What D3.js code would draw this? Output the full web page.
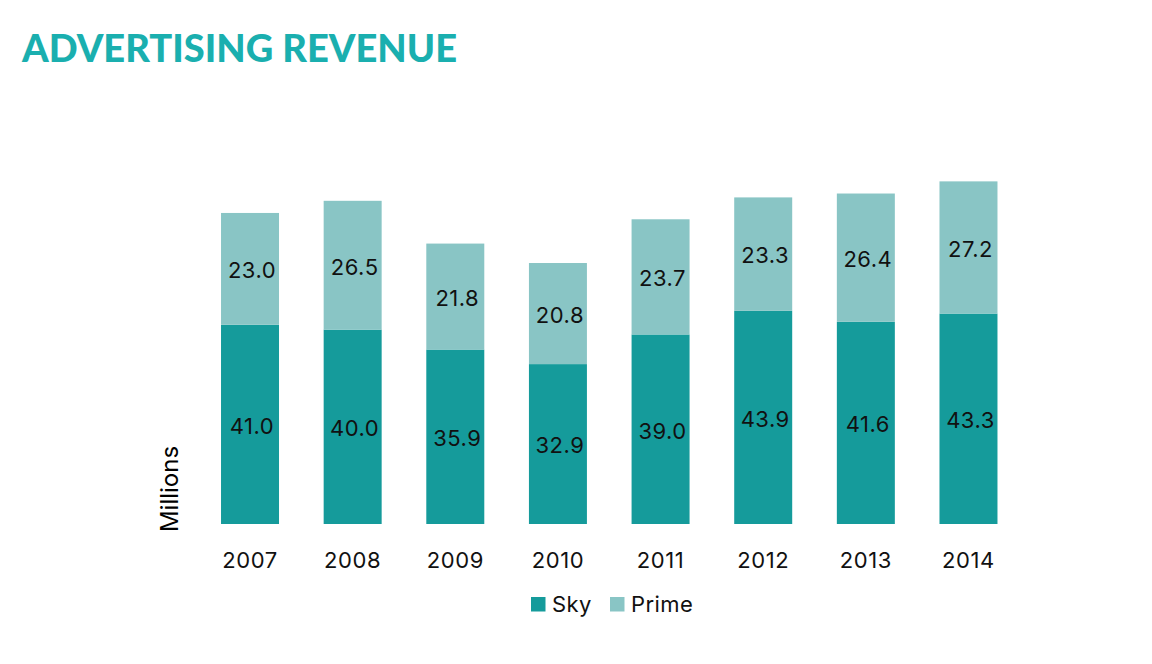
<!DOCTYPE html>
<html><head><meta charset="utf-8">
<script src="https://cdn.jsdelivr.net/npm/d3@7/dist/d3.min.js"></script>
<style>body{margin:0;background:#fff}svg{display:block}</style>
</head><body>
<svg id="c" width="1152" height="664"></svg>
<script>
const years = ["2007","2008","2009","2010","2011","2012","2013","2014"];
const sky =   [41.0, 40.0, 35.9, 32.9, 39.0, 43.9, 41.6, 43.3];
const prime = [23.0, 26.5, 21.8, 20.8, 23.7, 23.3, 26.4, 27.2];
const seriesNames = ["Sky","Prime"];
const colors = ["#159b9b","#89c5c5"];

const svg = d3.select("#c");
const font = "Inter, 'Noto Sans', sans-serif";

const rows = years.map((y,i)=>({year:y, Sky:sky[i], Prime:prime[i]}));
const stack = d3.stack().keys(seriesNames)(rows);

const x = d3.scaleBand().domain(years).range([198.7, 1019.8]).paddingInner(0.435).paddingOuter(0.2175);
const y = d3.scaleLinear().domain([0, 80]).range([524, 524 - 80*4.86]);

svg.append("text").attr("x",22).attr("y",62)
  .attr("font-family","'Lato', 'DejaVu Sans', sans-serif").attr("font-weight",900)
  .attr("font-size",37).attr("fill","#1aafaf")
  .attr("textLength",435).attr("lengthAdjust","spacingAndGlyphs")
  .text("ADVERTISING REVENUE");

const g = svg.append("g");
stack.forEach((s,si)=>{
  g.selectAll(null).data(s).join("rect")
    .attr("x",d=>x(d.data.year)).attr("width",x.bandwidth())
    .attr("y",d=>y(d[1])).attr("height",d=>y(d[0])-y(d[1]))
    .attr("fill",colors[si]);
  g.selectAll(null).data(s).join("text")
    .attr("x",d=>x(d.data.year)+x.bandwidth()/2+2)
    .attr("y",d=>(y(d[0])+y(d[1]))/2+1.5)
    .attr("dy","0.36em").attr("text-anchor","middle")
    .attr("font-family",font).attr("font-size",22).attr("letter-spacing",0.5).attr("fill","#111")
    .text(d=>(d[1]-d[0]).toFixed(1));
});

const ax = svg.append("g").attr("transform","translate(0,524)")
  .call(d3.axisBottom(x).tickSize(0).tickPadding(28));
ax.select(".domain").remove();
ax.selectAll("text").attr("font-family",font).attr("font-size",22).attr("letter-spacing",0.6).attr("fill","#111");

svg.append("text").attr("transform","translate(178,489) rotate(-90)")
  .attr("text-anchor","middle").attr("font-family",font).attr("font-size",24).attr("fill","#000")
  .text("Millions");

const leg = svg.append("g");
const legX = [531, 610];
seriesNames.forEach((n,i)=>{
  leg.append("rect").attr("x",legX[i]).attr("y",597).attr("width",14.5).attr("height",14.5).attr("fill",colors[i]);
  leg.append("text").attr("x",legX[i]+21).attr("y",612).attr("font-family",font).attr("font-size",22).attr("letter-spacing",0.4).attr("fill","#111").text(n);
});
</script>
</body></html>
